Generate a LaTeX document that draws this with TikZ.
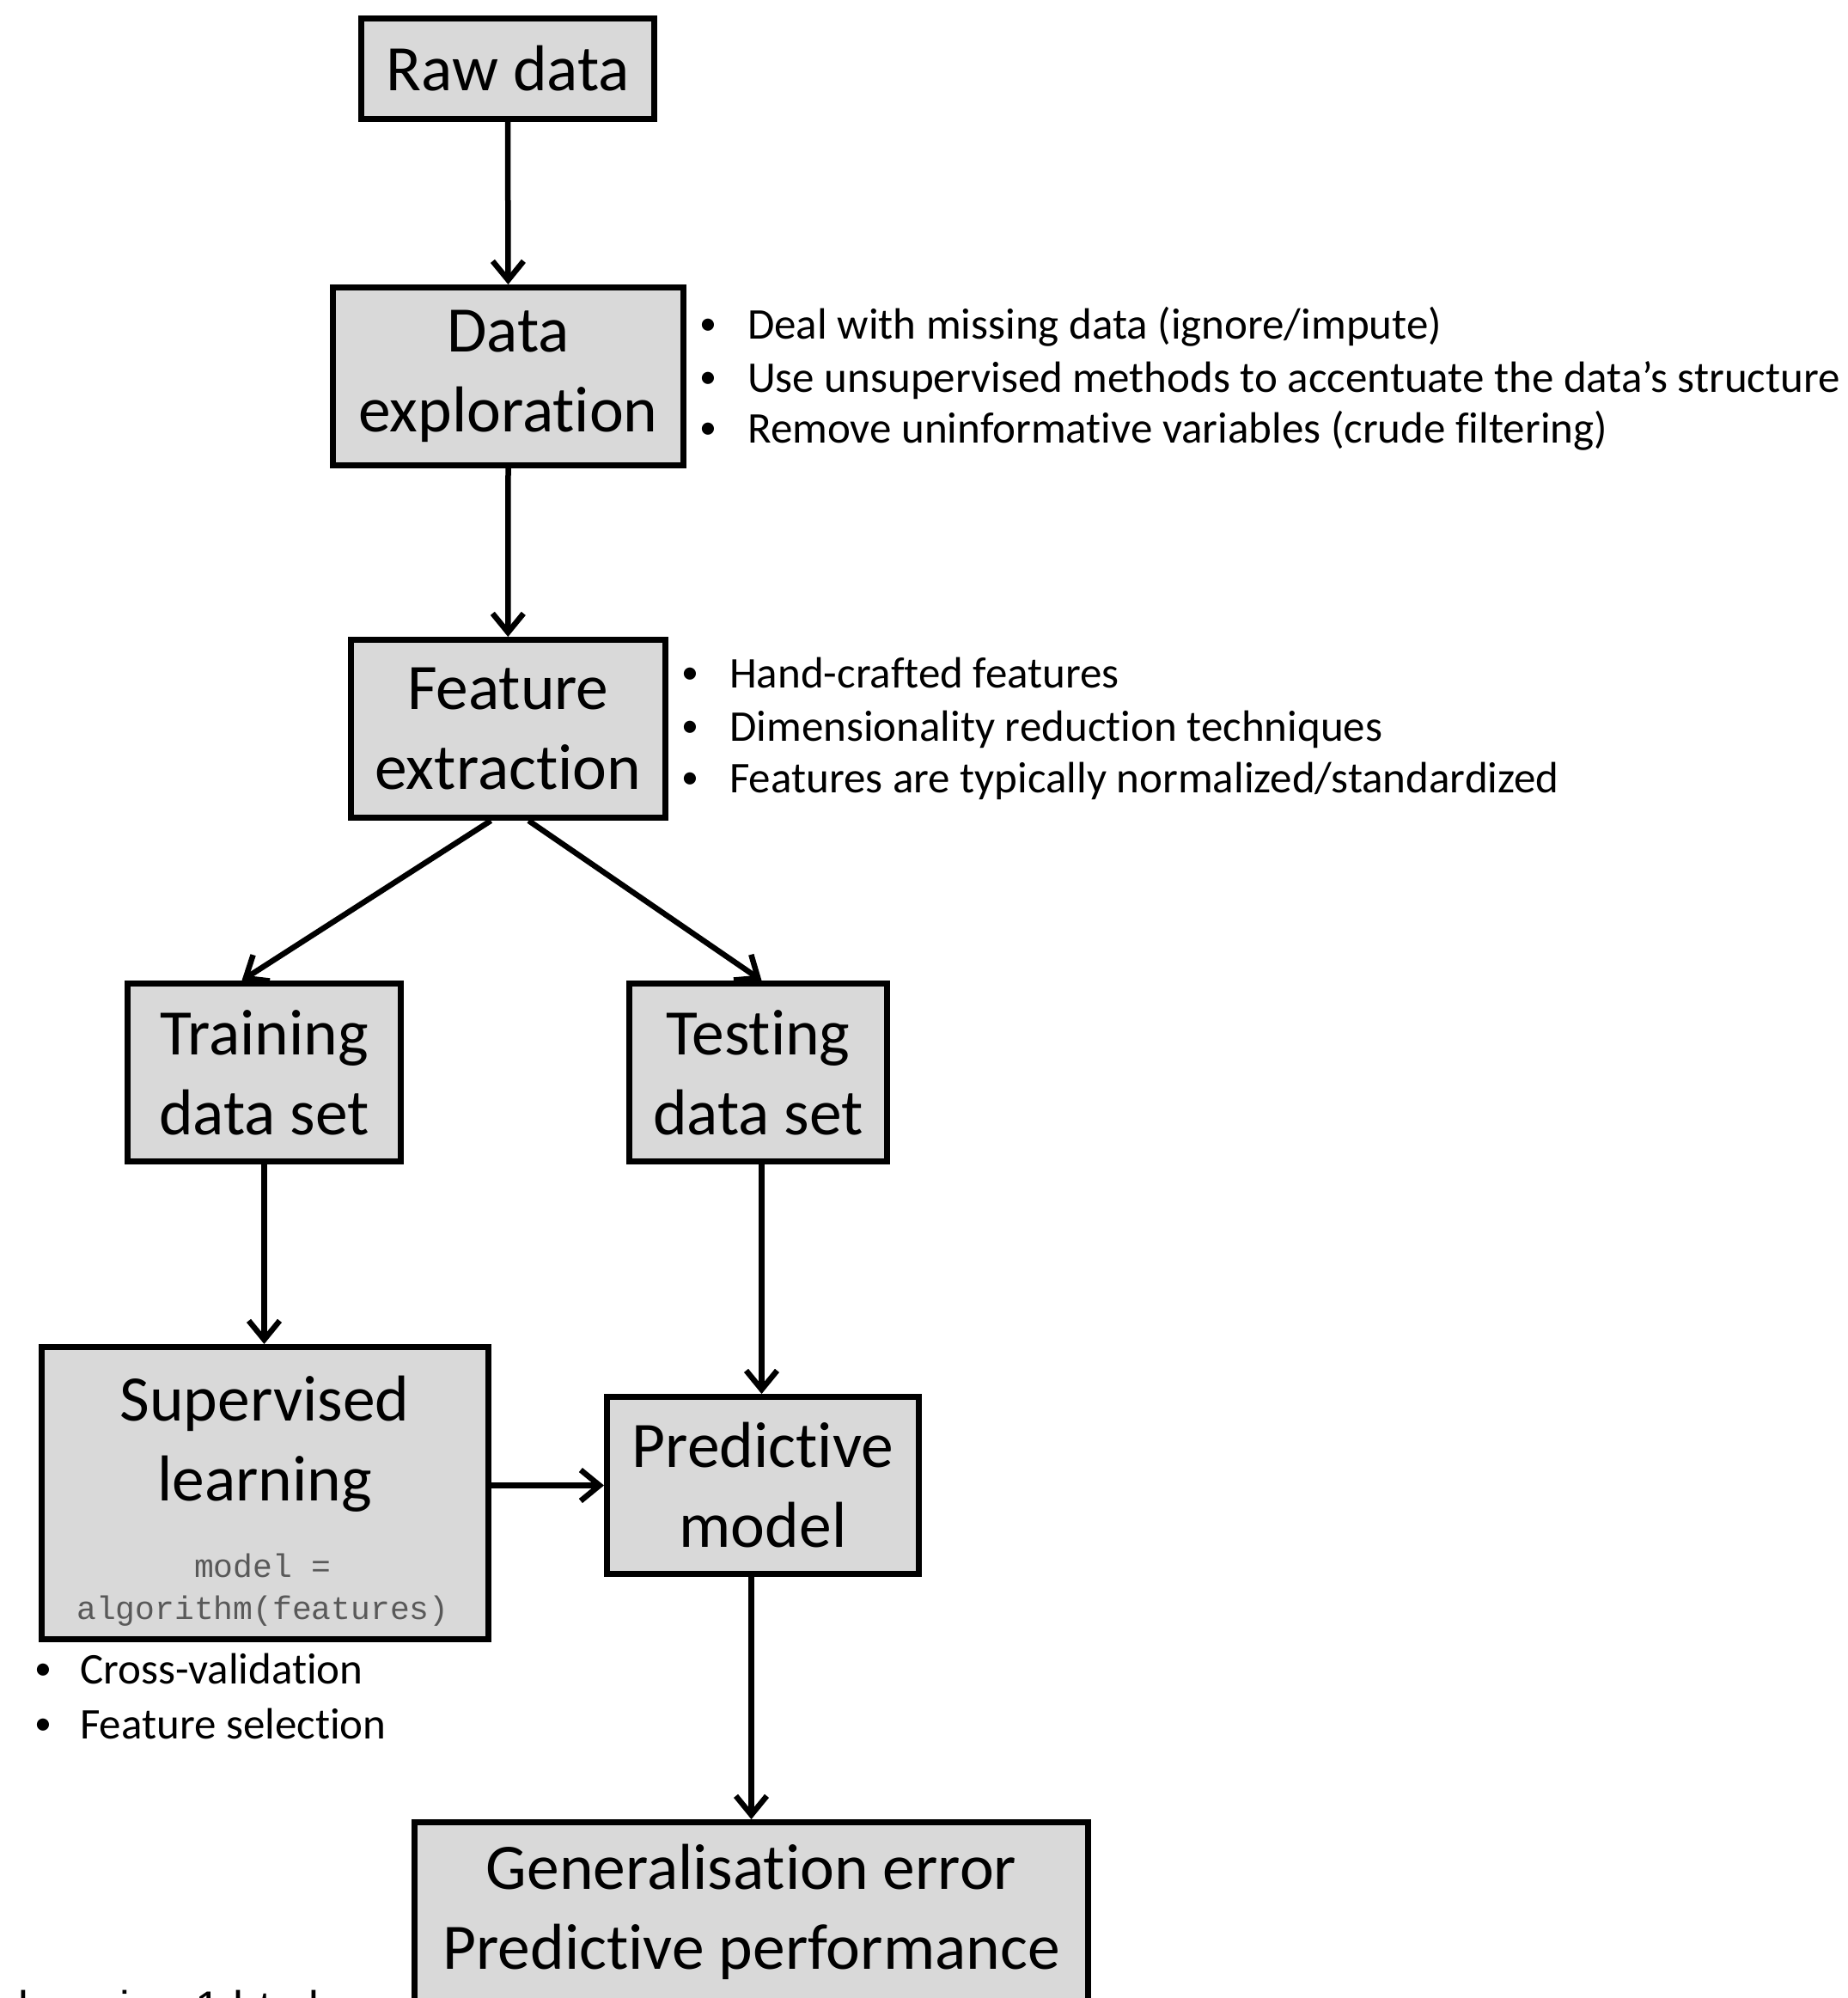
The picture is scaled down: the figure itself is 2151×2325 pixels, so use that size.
\documentclass[tikz,border=0pt]{standalone}
\usepackage{fontspec}
\setmainfont{Carlito}[Ligatures={NoCommon}]
\newfontfamily\codefont{Liberation Mono}
\newfontfamily\urlfont{Liberation Sans}
\usetikzlibrary{arrows.meta,calc}
\definecolor{boxfill}{RGB}{217,217,217}
% small bullet centred on the node's x position, text starting 46pt to its right
\newcommand{\itemdot}[1][46pt]{\makebox[#1][l]{\makebox[0pt]{\raisebox{5pt}{\fontsize{40}{40}\selectfont •}}}}
\tikzset{
  stage/.style={draw=black, fill=boxfill, line width=7pt, inner sep=0pt,
    align=center, font=\fontsize{75.5}{93}\selectfont},
  flow/.style={line width=6.5pt, -{Straight Barb[length=22pt,width=36pt]}},
  note/.style={anchor=base west, inner sep=0pt, font=\fontsize{51}{61}\selectfont},
}
\begin{document}
\begin{tikzpicture}[x=1pt,y=-1pt]
\clip (0,0) rectangle (2151,2325);
\fill[white] (0,0) rectangle (2151,2325);

% pipeline stages
\node[stage, minimum width=341pt, minimum height=117pt] (raw) at (591,80) {Raw data};
\node[stage, minimum width=408pt, minimum height=207pt] (dexp) at (591.5,438) {Data\\exploration};
\node[stage, minimum width=366pt, minimum height=207pt] (fext) at (591.3,848) {Feature\\extraction};
\node[stage, minimum width=318pt, minimum height=207pt] (train) at (307.5,1248) {Training\\data set};
\node[stage, minimum width=300pt, minimum height=207pt] (test) at (882.5,1248) {Testing\\data set};
\node[stage, minimum width=520pt, minimum height=340pt] (sup) at (308,1737.5) {};
\node[align=center, inner sep=0pt, font=\fontsize{75.5}{93}\selectfont] (suptitle) at (308,1680) {Supervised\\learning};
\node[align=center, inner sep=0pt, font=\codefont\fontsize{38}{49}\selectfont, text=black!65] (supcode) at (306,1850) {model =\\algorithm(features)};
\node[stage, minimum width=363pt, minimum height=206pt] (pred) at (888,1728.5) {Predictive\\model};
\node[stage, minimum width=784pt, minimum height=209pt] (gen) at (874.5,2225) {Generalisation error\\Predictive performance};

% connectors
\coordinate (testout) at ($(test.south)+(4,0)$);
\draw[flow] (raw.south) -- (dexp.north);
\draw[flow] (dexp.south) -- (fext.north);
\draw[flow] ($(fext.south)+(-20,0)$) -- ($(train.north)+(-26,0)$);
\draw[flow] ($(fext.south)+(24,0)$) -- ($(test.north)+(4,0)$);
\draw[flow] (train.south) -- (train.south |- sup.north);
\draw[flow] (testout) -- (testout |- pred.north);
\draw[flow] (sup.east |- pred.west) -- (pred.west);
\draw[flow] (pred.south -| gen.north) -- (gen.north);

% side notes
\node[note] (de1) at (824,394) {\itemdot Deal with missing data (ignore/impute)};
\node[note] (de2) at (824,456) {\itemdot Use unsupervised methods to accentuate the data’s structure};
\node[note] (de3) at (824,515) {\itemdot Remove uninformative variables (crude filtering)};
\node[note] (fe1) at (803,800) {\itemdot Hand-crafted features};
\node[note] (fe2) at (803,862) {\itemdot Dimensionality reduction techniques};
\node[note] (fe3) at (803,922) {\itemdot Features are typically normalized/standardized};
\node[note] (sl1) at (50,1959) {\itemdot[43pt]Cross-validation};
\node[note] (sl2) at (50,2023) {\itemdot[43pt]Feature selection};

% source line at the lower edge
\node[anchor=base west, inner sep=0pt, font=\urlfont\fontsize{53}{60}\selectfont] (src) at (21,2354) {learning-1.html};
\end{tikzpicture}
\end{document}
